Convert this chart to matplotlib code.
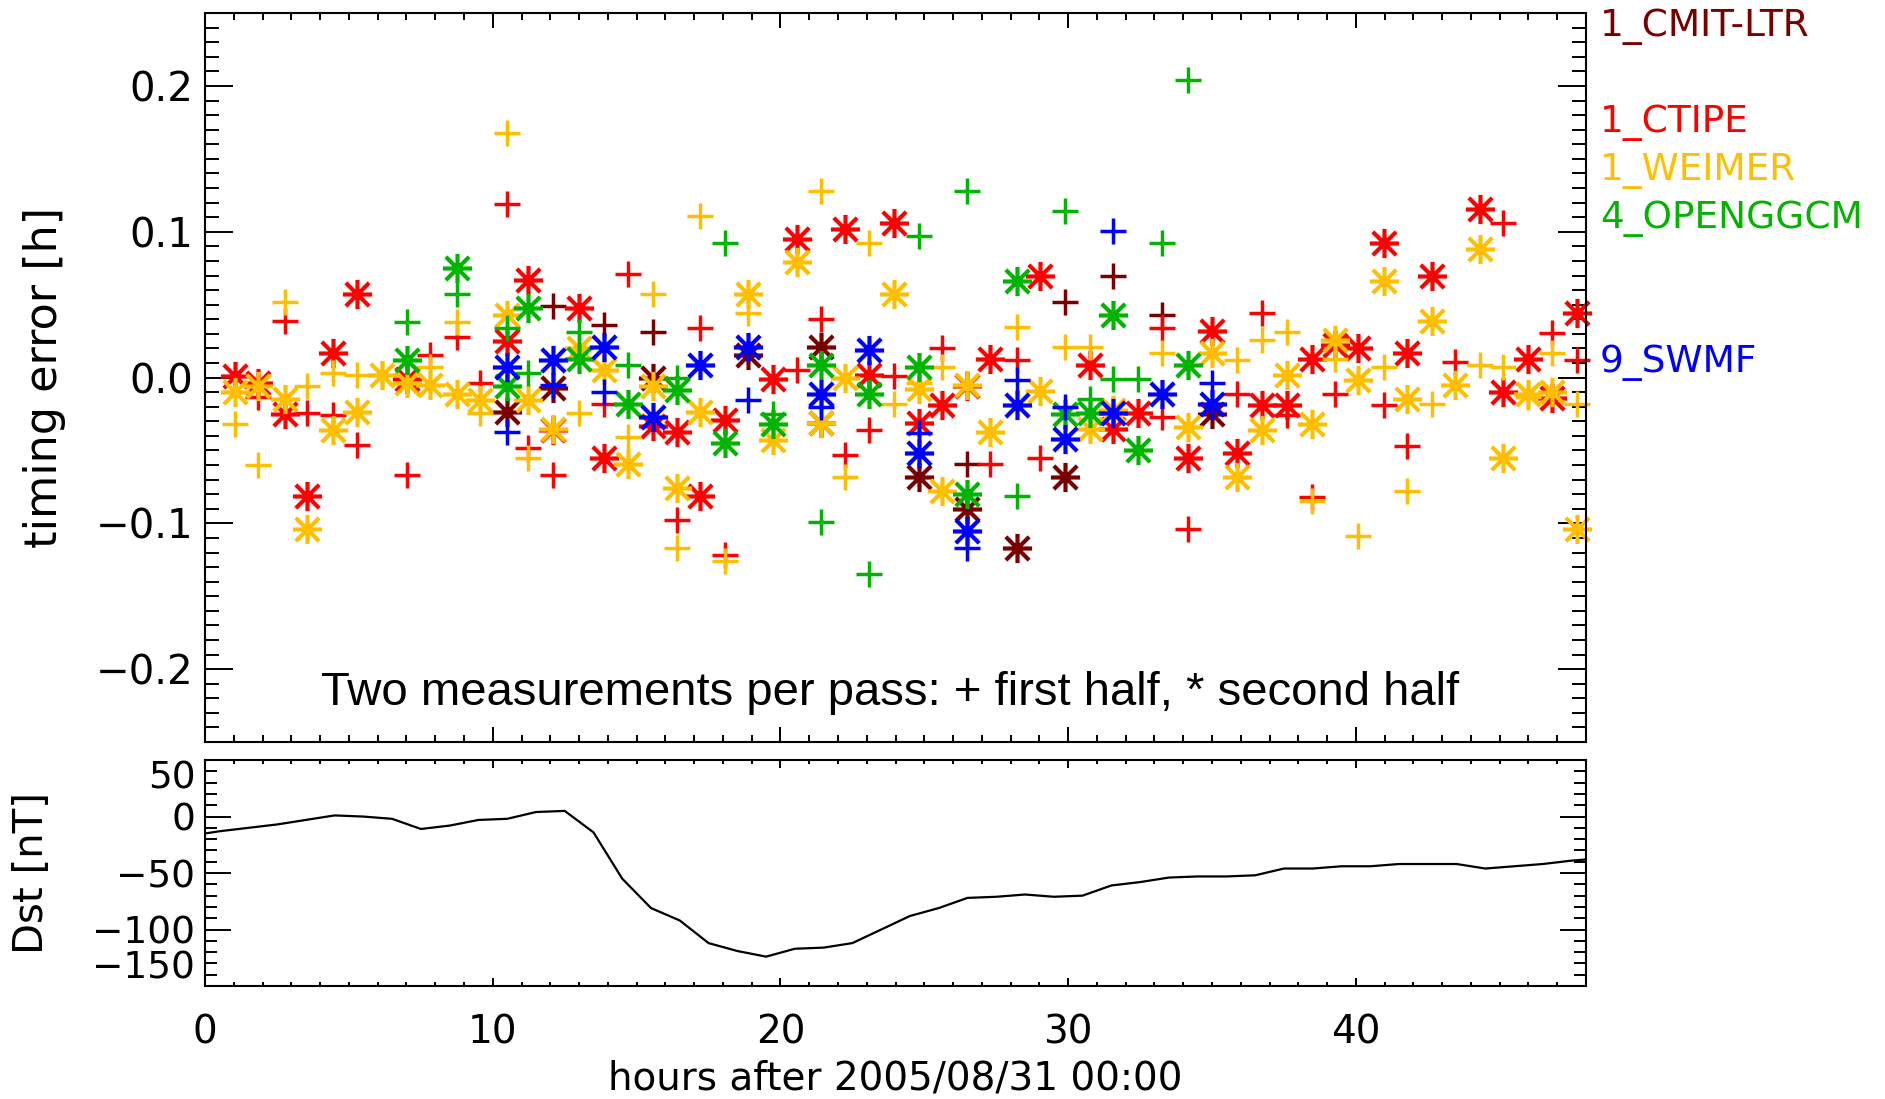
import matplotlib
matplotlib.use("Agg")
import matplotlib.pyplot as plt
from matplotlib.path import Path
from matplotlib.ticker import MultipleLocator

# ---- data ----
# CMIT-LTR (dark red)
cmit_plus_h = [12.11, 13.85, 15.58, 26.47, 29.89, 31.57, 33.25]
cmit_plus_v = [0.049, 0.036, 0.031, -0.059, 0.052, 0.0695, 0.043]
cmit_star_h = [10.49, 12.11, 15.58, 18.88, 21.4, 24.8, 26.47, 28.22, 29.89, 34.99]
cmit_star_v = [-0.0235, -0.0075, 0.0, 0.0155, 0.021, -0.068, -0.090, -0.117, -0.068, -0.025]

# CTIPE (red)
ctipe_plus_h = [1.85, 2.78, 3.53, 4.46, 5.27, 7.01, 7.82, 8.75, 9.56, 10.49,
                11.24, 12.11, 13.85, 14.71, 16.4, 17.2, 18.07, 20.57, 21.4, 22.25,
                23.06, 23.93, 25.6, 27.29, 28.22, 29.02, 33.25, 33.25, 34.18, 35.86,
                36.73, 37.6, 38.47, 39.28, 40.97, 41.77, 43.45, 45.13, 46.81, 47.68]
ctipe_plus_v = [-0.013, 0.0385, -0.024, -0.026, -0.0465, -0.067, 0.0155, 0.028, -0.004, 0.119,
                -0.048, -0.067, -0.018, 0.071, -0.098, 0.034, -0.122, 0.0052, 0.040, -0.0534,
                -0.036, 0.001, 0.020, -0.059, 0.012, -0.055, 0.034, -0.027, -0.104, -0.011,
                0.044, -0.026, -0.082, -0.011, -0.019, -0.047, 0.011, 0.106, 0.0305, 0.012]
ctipe_star_h = [1.04, 1.85, 2.78, 3.53, 4.46, 5.27, 7.01, 10.49, 11.24, 12.11,
                12.98, 13.85, 15.58, 16.4, 17.2, 18.07, 19.75, 20.57, 21.4, 22.25,
                23.06, 23.93, 24.8, 25.6, 26.47, 27.29, 29.02, 30.77, 31.57, 32.44,
                34.18, 34.99, 35.86, 36.73, 37.6, 38.47, 39.28, 40.09, 40.97, 41.77,
                42.64, 44.32, 45.13, 46.0, 46.81, 47.68]
ctipe_star_v = [0.001, -0.004, -0.025, -0.081, 0.017, 0.057, -0.001, 0.025, 0.067, -0.036,
                0.048, -0.055, -0.033, -0.037, -0.081, -0.029, -0.001, 0.095, -0.031, 0.102,
                0.002, 0.106, -0.031, -0.019, -0.006, 0.013, 0.0695, 0.0086, -0.035, -0.024,
                -0.055, 0.0316, -0.052, -0.019, -0.019, 0.013, 0.022, 0.020, 0.0925, 0.0167,
                0.0695, 0.1155, -0.010, 0.013, -0.014, 0.044]

# WEIMER (orange)
weimer_plus_h = [1.04, 1.85, 2.78, 3.53, 4.46, 5.27, 6.14, 7.82, 8.75, 9.56,
                 10.49, 11.24, 12.98, 14.71, 15.58, 16.4, 17.2, 18.07, 18.88, 21.4,
                 22.25, 23.06, 23.93, 24.8, 25.6, 28.22, 29.89, 30.77, 33.25, 35.86,
                 36.73, 37.6, 38.47, 39.28, 40.09, 40.97, 41.77, 42.64, 44.32, 45.13,
                 46.0, 46.81, 47.68]
weimer_plus_v = [-0.032, -0.060, 0.052, -0.006, 0.003, 0.002, 0.002, 0.0075, 0.038, -0.024,
                 0.168, -0.055, -0.024, -0.041, 0.057, -0.117, 0.111, -0.126, 0.044, 0.128,
                 -0.068, 0.0925, -0.018, -0.004, 0.0075, 0.035, 0.021, 0.021, 0.017, 0.012,
                 0.026, 0.031, -0.085, 0.013, -0.109, 0.0075, -0.078, -0.018, 0.0086, 0.0075,
                 -0.013, 0.017, -0.018]
weimer_star_h = [1.04, 1.85, 2.78, 3.53, 4.46, 5.27, 6.14, 7.01, 7.82, 8.75,
                 9.56, 10.49, 11.24, 12.11, 12.98, 13.85, 14.71, 15.58, 16.4, 17.2,
                 18.88, 19.75, 20.57, 21.4, 22.25, 23.93, 24.8, 25.6, 26.47, 27.29,
                 29.02, 30.77, 31.57, 34.18, 34.99, 35.86, 36.73, 37.6, 38.47, 39.28,
                 40.09, 40.97, 41.77, 42.64, 43.45, 44.32, 45.13, 46.0, 46.81, 47.68]
weimer_star_v = [-0.0098, -0.006, -0.0144, -0.104, -0.036, -0.0236, 0.002, -0.004, -0.005, -0.011,
                 -0.0155, 0.043, -0.0155, -0.035, 0.020, 0.005, -0.059, -0.006, -0.076, -0.0236,
                 0.057, -0.043, 0.079, -0.031, 0.0, 0.057, -0.008, -0.0776, -0.005, -0.037,
                 -0.009, -0.035, -0.022, -0.034, 0.0167, -0.068, -0.036, 0.002, -0.032, 0.026,
                 -0.002, 0.066, -0.0144, 0.0385, -0.005, 0.088, -0.055, -0.011, -0.010, -0.104]

# OPENGGCM (green)
openggcm_plus_h = [7.01, 8.75, 10.49, 11.24, 12.98, 14.71, 16.4, 18.07, 19.75, 21.4,
                   23.06, 24.8, 26.47, 28.22, 29.89, 30.77, 31.57, 32.44, 33.25, 34.18]
openggcm_plus_v = [0.038, 0.057, 0.034, 0.003, 0.031, 0.0086, 0.0, 0.0925, -0.025, -0.0994,
                   -0.135, 0.097, 0.128, -0.081, 0.114, -0.015, -0.001, -0.001, 0.0925, 0.204]
openggcm_star_h = [7.01, 8.75, 10.49, 11.24, 12.98, 14.71, 16.4, 18.07, 19.75, 21.4,
                   23.06, 24.8, 26.47, 28.22, 29.89, 30.77, 31.57, 32.44, 34.18]
openggcm_star_v = [0.012, 0.075, -0.006, 0.048, 0.013, -0.018, -0.0086, -0.045, -0.0316, 0.0086,
                   -0.011, 0.0075, -0.080, 0.066, -0.025, -0.024, 0.043, -0.050, 0.0086]

# SWMF (blue)
swmf_plus_h = [10.49, 12.11, 13.85, 18.88, 21.4, 24.8, 26.47, 28.22, 29.89, 31.57, 34.99]
swmf_plus_v = [-0.037, -0.005, -0.010, -0.0155, -0.020, -0.038, -0.117, -0.002, -0.020, 0.1005, -0.004]
swmf_star_h = [10.49, 12.11, 13.85, 15.58, 17.2, 18.88, 21.4, 23.06, 24.8, 26.47,
               28.22, 29.89, 31.57, 33.25, 34.99]
swmf_star_v = [0.0075, 0.012, 0.021, -0.027, 0.0086, 0.021, -0.011, 0.019, -0.052, -0.105,
               -0.019, -0.042, -0.024, -0.011, -0.018]

model_names = ["1_CMIT-LTR", "1_CTIPE", "1_WEIMER", "4_OPENGGCM", "9_SWMF"]
model_colors = ["#7a0000", "#ff0000", "#ffbf00", "#00b400", "#0000ff"]
label_y = [0.2405, 0.175, 0.142, 0.109, 0.0103]

# Dst index
dst_hours = [0, 0.5, 1.5, 2.5, 3.5, 4.5, 5.5, 6.5, 7.5, 8.5, 9.5, 10.5, 11.5, 12.5,
             13.5, 14.5, 15.5, 16.5, 17.5, 18.5, 19.5, 20.5, 21.5, 22.5, 23.5, 24.5,
             25.5, 26.5, 27.5, 28.5, 29.5, 30.5, 31.5, 32.5, 33.5, 34.5, 35.5, 36.5,
             37.5, 38.5, 39.5, 40.5, 41.5, 42.5, 43.5, 44.5, 45.5, 46.5, 47.5, 48]
dst_nT = [-15, -13, -10, -7, -3, 1, 0, -2, -11, -8, -3, -2, 4, 5,
          -14, -55, -81, -92, -112, -119, -124, -117, -116, -112, -100, -88,
          -81, -72, -71, -69, -71, -70, -61, -58, -54, -53, -53, -52,
          -46, -46, -44, -44, -42, -42, -42, -46, -44, -42, -39, -38]

plus_h = [cmit_plus_h, ctipe_plus_h, weimer_plus_h, openggcm_plus_h, swmf_plus_h]
plus_v = [cmit_plus_v, ctipe_plus_v, weimer_plus_v, openggcm_plus_v, swmf_plus_v]
star_h = [cmit_star_h, ctipe_star_h, weimer_star_h, openggcm_star_h, swmf_star_h]
star_v = [cmit_star_v, ctipe_star_v, weimer_star_v, openggcm_star_v, swmf_star_v]

# IDL style asterisk: + and x together
ast = Path([(0, -1), (0, 1), (-1, 0), (1, 0),
            (-0.8, -0.8), (0.8, 0.8), (-0.8, 0.8), (0.8, -0.8)],
           [Path.MOVETO, Path.LINETO] * 4)

plt.rcParams['font.family'] = ['DejaVu Sans']

fig = plt.figure(figsize=(18.85, 10.99), dpi=100)
ax1 = fig.add_axes([0.1088, 0.3248, 0.7326, 0.6633])
ax2 = fig.add_axes([0.1088, 0.1028, 0.7326, 0.2056])

for i in range(5):
    ax1.plot(plus_h[i], plus_v[i], linestyle='none', marker='+', markersize=19,
             markeredgewidth=2.5, color=model_colors[i], clip_on=False)
    ax1.plot(star_h[i], star_v[i], linestyle='none', marker=ast, markersize=21,
             markeredgewidth=3.0, color=model_colors[i], clip_on=False)
    ax1.text(1.010, label_y[i], model_names[i], color=model_colors[i], fontsize=27,
             va='center', ha='left', transform=ax1.get_yaxis_transform())

ax1.set_xlim(0, 48)
ax1.set_ylim(-0.25, 0.25)
ax1.set_yticks([-0.2, -0.1, 0.0, 0.1, 0.2])
ax1.set_yticklabels(["\u22120.2", "\u22120.1", "0.0", "0.1", "0.2"])
ax1.yaxis.set_minor_locator(MultipleLocator(0.01))
ax1.xaxis.set_major_locator(MultipleLocator(10))
ax1.xaxis.set_minor_locator(MultipleLocator(1))
ax1.tick_params(axis='both', which='both', direction='in', top=True, right=True,
                width=1.4, labelbottom=False)
ax1.tick_params(axis='x', which='major', length=10.5)
ax1.tick_params(axis='x', which='minor', length=5)
ax1.tick_params(axis='y', which='major', length=20, labelsize=29, pad=8.5)
ax1.tick_params(axis='y', which='minor', length=10)
ax1.set_ylabel("timing error [h]", fontsize=32)
ax1.yaxis.set_label_coords(-0.101, 0.5)
ax1.text(0.4957, 0.051, "Two measurements per pass: + first half, * second half",
         transform=ax1.transAxes, ha='center', va='baseline', fontsize=34,
         family=['Liberation Sans', 'DejaVu Sans'])

ax2.plot(dst_hours, dst_nT, color='black', linewidth=1.6)
ax2.set_xlim(0, 48)
ax2.set_ylim(-150, 50)
ax2.set_yticks([-150, -100, -50, 0, 50])
ax2.set_yticklabels(["\u2212150", "\u2212100", "\u221250", "0", "50"])
ax2.yaxis.set_minor_locator(MultipleLocator(10))
ax2.xaxis.set_major_locator(MultipleLocator(10))
ax2.xaxis.set_minor_locator(MultipleLocator(1))
ax2.tick_params(axis='both', which='both', direction='in', top=True, right=True, width=1.4)
ax2.tick_params(axis='x', which='major', length=6, labelsize=28, pad=20)
ax2.tick_params(axis='x', which='minor', length=3)
ax2.tick_params(axis='y', which='major', length=19, labelsize=27, pad=7)
ax2.tick_params(axis='y', which='minor', length=8.5)
ylabs = ax2.get_yticklabels()
ylabs[0].set_va('bottom')
ylabs[-1].set_va('top')
ax2.set_ylabel("Dst [nT]", fontsize=29)
ax2.yaxis.set_label_coords(-0.111, 0.5)
ax2.set_xlabel("hours after 2005/08/31 00:00", fontsize=28)
ax2.xaxis.set_label_coords(0.5, -0.325)

for ax in (ax1, ax2):
    for s in ax.spines.values():
        s.set_linewidth(1.5)

fig.savefig("out.png", dpi=100)
